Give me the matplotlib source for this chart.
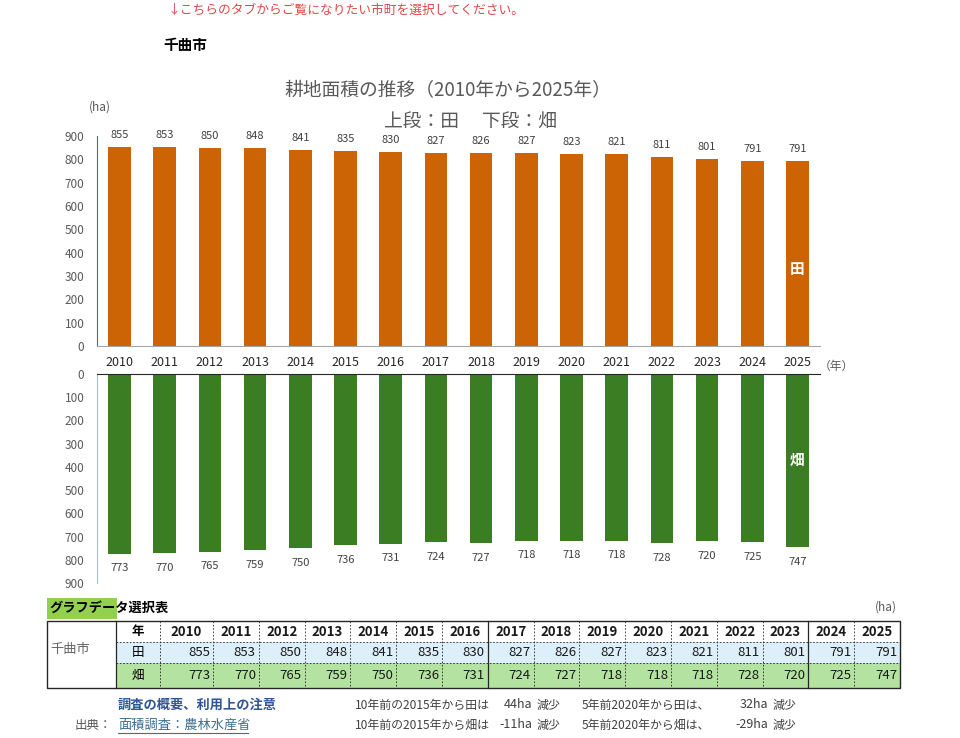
import numpy as np
import matplotlib.pyplot as plt

plt.rcParams['font.family'] = ['Noto Sans CJK JP', 'DejaVu Sans']

# data
years = [2010, 2011, 2012, 2013, 2014, 2015, 2016, 2017,
         2018, 2019, 2020, 2021, 2022, 2023, 2024, 2025]
rice = [855, 853, 850, 848, 841, 835, 830, 827, 826, 827, 823, 821, 811, 801, 791, 791]
field = [773, 770, 765, 759, 750, 736, 731, 724, 727, 718, 718, 718, 728, 720, 725, 747]
city = "千曲市"
yticks = [0, 100, 200, 300, 400, 500, 600, 700, 800, 900]

W, H = 960, 738
ORANGE = '#cc6304'
GREEN = '#3a7d22'
GRAY = '#595959'


def fbox(x0, y0, x1, y1):
    # pixel box -> figure fraction
    return [x0 / W, 1 - y1 / H, (x1 - x0) / W, (y1 - y0) / H]


fig = plt.figure(figsize=(W / 100, H / 100), dpi=100)

# overlay for free text and the table (pixel coords)
ov = fig.add_axes([0, 0, 1, 1], zorder=0)
ov.set_xlim(0, W)
ov.set_ylim(H, 0)
ov.axis('off')

x = np.arange(len(years))

# upper chart: 田
ax1 = fig.add_axes(fbox(97, 136, 820, 346), zorder=2)
ax1.patch.set_alpha(0)
ax1.bar(x, rice, width=0.5, color=ORANGE)
ax1.set_xlim(-0.5, len(years) - 0.5)
ax1.set_ylim(0, 900)
ax1.set_yticks(yticks)
ax1.set_xticks(x)
ax1.set_xticklabels([str(y) for y in years], fontsize=9, color='#262626')
ax1.tick_params(axis='y', length=0, pad=9, labelsize=8.5, labelcolor=GRAY)
ax1.tick_params(axis='x', length=0, pad=7)
for s in ['top', 'right']:
    ax1.spines[s].set_visible(False)
ax1.spines['left'].set_color('#3f6e9e')
ax1.spines['bottom'].set_color('#a6a6a6')
for i, v in enumerate(rice):
    ax1.annotate(str(v), (i, v), xytext=(0, 5), textcoords='offset points',
                 ha='center', va='bottom', fontsize=8, color='#404040')
ax1.text(len(years) - 1, 330, "田", ha='center', va='center', color='white',
         fontsize=10.5, fontweight='bold')

# lower chart: 畑
ax2 = fig.add_axes(fbox(97, 374, 820, 583), zorder=2)
ax2.patch.set_alpha(0)
ax2.bar(x, field, width=0.5, color=GREEN)
ax2.set_xlim(-0.5, len(years) - 0.5)
ax2.set_ylim(900, 0)
ax2.set_yticks(yticks)
ax2.set_xticks([])
ax2.tick_params(axis='y', length=0, pad=9, labelsize=8.5, labelcolor=GRAY)
for s in ['bottom', 'right']:
    ax2.spines[s].set_visible(False)
ax2.spines['left'].set_color('#a9c0d6')
ax2.spines['top'].set_color('#262626')
for i, v in enumerate(field):
    ax2.annotate(str(v), (i, v), xytext=(0, -7), textcoords='offset points',
                 ha='center', va='top', fontsize=8, color='#404040')
ax2.text(len(years) - 1, 370, "畑", ha='center', va='center', color='white',
         fontsize=10.5, fontweight='bold')

# header texts
ov.text(168, 10, "↓こちらのタブからご覧になりたい市町を選択してください。",
        fontsize=9.2, color='#e04848', va='center', ha='left')
ov.text(163, 45, city, fontsize=10.5, fontweight='bold', va='center', ha='left')
ov.text(448, 91, "耕地面積の推移（2010年から2025年）", fontsize=13.5, color=GRAY,
        ha='center', va='center')
ov.text(470, 121, "上段：田　 下段：畑", fontsize=13.5, color=GRAY, ha='center', va='center')
ov.text(100, 107, "(ha)", fontsize=8.5, color=GRAY, ha='center', va='center')
ov.text(836, 366, "（年）", fontsize=8.5, color=GRAY, ha='center', va='center')

# table
ov.add_patch(plt.Rectangle((47, 598), 70, 21, color='#92d050', lw=0))
ov.text(49, 608, "グラフデータ選択表", fontsize=9.5, fontweight='bold', va='center', ha='left')
ov.text(897, 607, "(ha)", fontsize=8.5, color=GRAY, va='center', ha='right')

col_edges = [47, 116, 160, 213] + [213 + 45.8 * k for k in range(1, 16)]
row_edges = [621, 642, 663, 688]
right = col_edges[-1]

ov.add_patch(plt.Rectangle((116, 642), right - 116, 21, color='#ddeffa', lw=0))
ov.add_patch(plt.Rectangle((116, 663), right - 116, 25, color='#b4e2a0', lw=0))

# grid lines
for cx in col_edges[2:-1]:
    solid = cx in (col_edges[9], col_edges[16])
    ov.plot([cx, cx], [621, 688], color='#262626', lw=0.9 if solid else 0.6,
            ls='-' if solid else (0, (2, 2)))
for ry in row_edges[1:3]:
    ov.plot([116, right], [ry, ry], color='#262626', lw=0.6, ls=(0, (2, 2)))
ov.plot([116, 116], [621, 688], color='#262626', lw=0.9)
ov.add_patch(plt.Rectangle((47, 621), right - 47, 67, fill=False, ec='#262626', lw=1))

rc = [(row_edges[i] + row_edges[i + 1]) / 2 for i in range(3)]
ov.text(50, 650, city, fontsize=9.5, color='#666666', va='center', ha='left')
ov.text(138, rc[0], "年", fontsize=9, fontweight='bold', ha='center', va='center')
ov.text(138, rc[1], "田", fontsize=9, ha='center', va='center')
ov.text(138, rc[2], "畑", fontsize=9, ha='center', va='center')
for i, y in enumerate(years):
    c0, c1 = col_edges[i + 2], col_edges[i + 3]
    ov.text((c0 + c1) / 2, rc[0], str(y), fontsize=9.5, fontweight='bold',
            ha='center', va='center', color='#1a1a1a')
    ov.text(c1 - 3, rc[1], str(rice[i]), fontsize=9.5, ha='right', va='center', color='#1a1a1a')
    ov.text(c1 - 3, rc[2], str(field[i]), fontsize=9.5, ha='right', va='center', color='#1a1a1a')

# notes below the table
i15, i20 = years.index(2015), years.index(2020)
ov.text(118, 705, "調査の概要、利用上の注意", fontsize=9.5, fontweight='bold',
        color='#2f5597', va='center', ha='left')
ov.text(75, 725, "出典：", fontsize=9, color=GRAY, va='center', ha='left')
ov.text(118, 725, "面積調査：農林水産省", fontsize=9.5, color='#3f6f8f', va='center', ha='left')
ov.plot([118, 248], [733, 733], color='#3f6f8f', lw=0.8)

note = '#404040'
ov.text(355, 705, "10年前の2015年から田は", fontsize=8.6, color=note, va='center', ha='left')
ov.text(355, 725, "10年前の2015年から畑は", fontsize=8.6, color=note, va='center', ha='left')
ov.text(582, 705, "5年前2020年から田は、", fontsize=8.6, color=note, va='center', ha='left')
ov.text(582, 725, "5年前2020年から畑は、", fontsize=8.6, color=note, va='center', ha='left')
for yy, d in [(705, rice[i15] - rice[-1]), (725, field[i15] - field[-1])]:
    ov.text(532, yy, f"{d}ha", fontsize=9, color=note, va='center', ha='right')
    ov.text(537, yy, "減少", fontsize=8.6, color=note, va='center', ha='left')
for yy, d in [(705, rice[i20] - rice[-1]), (725, field[i20] - field[-1])]:
    ov.text(768, yy, f"{d}ha", fontsize=9, color=note, va='center', ha='right')
    ov.text(773, yy, "減少", fontsize=8.6, color=note, va='center', ha='left')

fig.savefig("out.png", dpi=100)
